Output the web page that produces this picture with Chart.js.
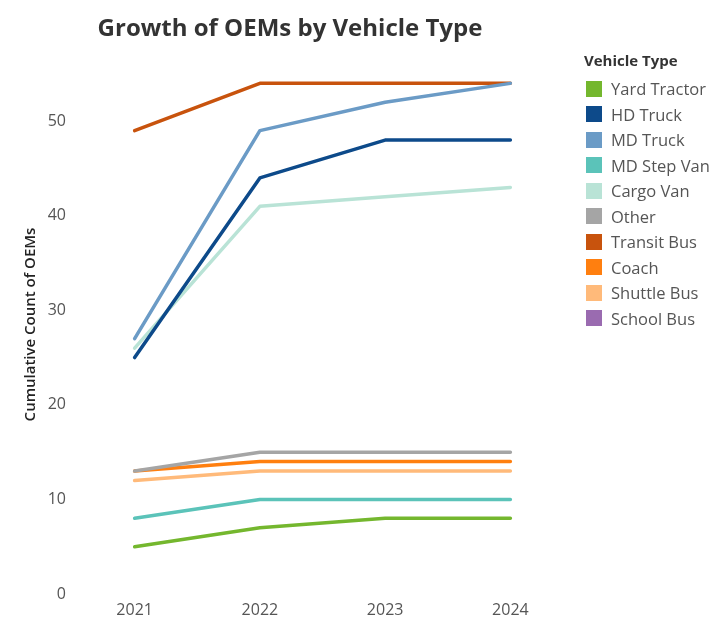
<!DOCTYPE html>
<html>
<head>
<meta charset="utf-8">
<script src="https://cdn.jsdelivr.net/npm/chart.js@4.4.1/dist/chart.umd.min.js"></script>
<style>
  body { margin: 0; background: #fff; font-family: "Open Sans", sans-serif; }
  #wrap { position: relative; width: 721px; height: 634px; }
  #box { position: absolute; left: 0; top: 0; width: 721px; height: 634px; }
  #titulo { position: absolute; left: 0; width: 580px; top: 10px; text-align: center;
    font-size: 24px; font-weight: bold; color: #333; }
  #leyenda { position: absolute; left: 584px; top: 50px; }
  #leyenda .cab { font-size: 15px; font-weight: bold; color: #333; height: 26px; }
  #leyenda .item { display: flex; align-items: center; height: 25.5px; font-size: 16.5px; color: #555; }
  #leyenda .cuadro { width: 16px; height: 16px; margin-right: 9px; margin-left: 2px; }
</style>
</head>
<body>
<div id="wrap">
  <div id="box"><canvas id="grafico"></canvas></div>
  <div id="titulo">Growth of OEMs by Vehicle Type</div>
  <div id="leyenda"></div>
</div>
<script>
// Años y series acumuladas
const anios = ['2021', '2022', '2023', '2024'];
const tipos = ['Yard Tractor', 'HD Truck', 'MD Truck', 'MD Step Van', 'Cargo Van',
  'Other', 'Transit Bus', 'Coach', 'Shuttle Bus', 'School Bus'];
const colores = ['#74b72e', '#0d4a8a', '#6b9bc6', '#5bc3b9', '#b9e3d6',
  '#a5a5a5', '#c8530d', '#ff7f0f', '#ffba7a', '#9a6bb0'];

const yardTractor = [5, 7, 8, 8];
const hdTruck = [25, 44, 48, 48];
const mdTruck = [27, 49, 52, 54];
const mdStepVan = [8, 10, 10, 10];
const cargoVan = [26, 41, 42, 43];
const other = [13, 15, 15, 15];
const transitBus = [49, 54, 54, 54];
const coach = [13, 14, 14, 14];
const shuttleBus = [12, 13, 13, 13];
const schoolBus = [null, null, null, null];

const series = [yardTractor, hdTruck, mdTruck, mdStepVan, cargoVan,
  other, transitBus, coach, shuttleBus, schoolBus];

// Leyenda en HTML
const leyenda = document.getElementById('leyenda');
leyenda.innerHTML = '<div class="cab">Vehicle Type</div>' + tipos.map((t, i) =>
  `<div class="item"><span class="cuadro" style="background:${colores[i]}"></span>${t}</div>`
).join('');

const ctx = document.getElementById('grafico').getContext('2d');
new Chart(ctx, {
  type: 'line',
  data: {
    labels: anios,
    datasets: tipos.map((t, i) => ({
      label: t,
      data: series[i],
      borderColor: colores[i],
      backgroundColor: colores[i],
      borderWidth: 3.5,
      borderCapStyle: 'round',
      borderJoinStyle: 'round',
      tension: 0,
      pointRadius: 0
    }))
  },
  options: {
    responsive: true,
    maintainAspectRatio: false,
    animation: false,
    layout: { padding: { top: 55, right: 148, left: 0, bottom: 0 } },
    plugins: {
      legend: { display: false },
      tooltip: { enabled: false }
    },
    scales: {
      x: {
        offset: true,
        grid: { display: false, drawTicks: false },
        border: { display: false },
        ticks: { color: '#555', font: { family: 'Open Sans', size: 16 }, padding: 7 },
        afterFit: s => { s.height = 40; }
      },
      y: {
        min: 0,
        max: 57,
        grid: { display: false, drawTicks: false },
        border: { display: false },
        ticks: { stepSize: 10, color: '#555', font: { family: 'Open Sans', size: 16 }, padding: 6 },
        afterBuildTicks: s => { s.ticks = s.ticks.filter(t => t.value % 10 === 0); },
        afterFit: s => { s.width = 72; },
        title: {
          display: true,
          text: 'Cumulative Count of OEMs',
          color: '#222',
          font: { family: 'Open Sans', size: 15, weight: '600' },
          padding: { top: 22, bottom: 0 }
        }
      }
    }
  }
});
</script>
</body>
</html>
